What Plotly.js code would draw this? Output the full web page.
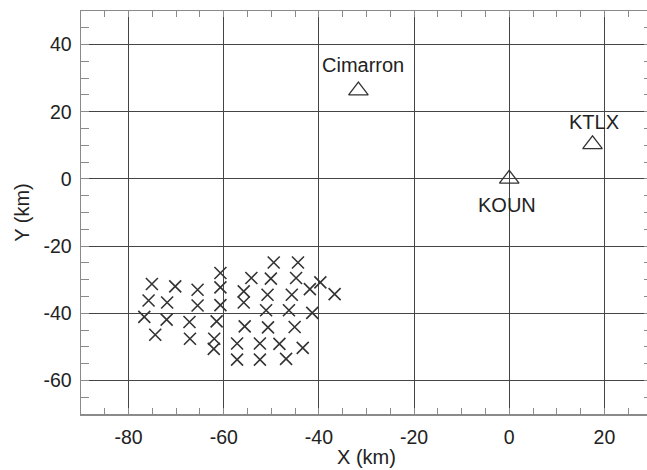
<!DOCTYPE html>
<html>
<head>
<meta charset="utf-8">
<script src="https://cdn.plot.ly/plotly-3.0.1.min.js"></script>
<style>
html,body{margin:0;padding:0;overflow:hidden;background:#fff;}
#chart{width:660px;height:470px;}
</style>
</head>
<body>
<div id="chart"></div>
<script>
// Observation points (km)
const pointX = [-75.1,-70.2,-65.5,-60.7,-60.7,-75.8,-71.9,-65.5,-60.7,-76.7,-72.0,-67.2,-61.5,-74.4,-67.1,-62.0,-62.1,
  -55.8,-55.8,-54.2,-55.6,-57.2,-57.2,-49.5,-50.1,-50.8,-51.1,-50.7,-52.4,-52.4,
  -44.4,-44.8,-45.7,-46.3,-45.1,-48.3,-46.9,-41.9,-39.7,-36.7,-41.4,-43.4];
const pointY = [-31.3,-32.0,-33.0,-28.0,-32.3,-36.2,-36.8,-37.7,-37.6,-41.1,-41.9,-42.6,-42.4,-46.4,-47.6,-47.6,-50.6,
  -33.5,-36.8,-29.5,-43.9,-49.0,-53.8,-24.9,-29.7,-34.5,-39.1,-44.2,-49.0,-53.8,
  -24.9,-29.5,-34.5,-39.1,-44.1,-49.1,-53.6,-32.8,-30.8,-34.3,-39.9,-50.3];

// Radar sites
const siteNames = ["Cimarron", "KTLX", "KOUN"];
const siteX = [-31.7, 17.5, 0];
const siteY = [26.3, 10.3, 0];

const xTicks = [-80, -60, -40, -20, 0, 20];
const yTicks = [-60, -40, -20, 0, 20, 40];

const labelShift = {Cimarron: [5, 26], KTLX: [1, 22], KOUN: [-2, -26]};

const txtColor = '#222';
const fontFam = 'Liberation Sans, Arial, Helvetica, sans-serif';

const traces = [
  {
    x: pointX, y: pointY, mode: 'markers', type: 'scatter',
    marker: {symbol: 'x-thin-open', size: 12, color: '#333', line: {width: 1.6, color: '#333'}},
    hoverinfo: 'skip'
  },
  {
    x: siteX, y: siteY, mode: 'markers', type: 'scatter',
    marker: {symbol: 'triangle-up-open', size: 17, color: '#333', line: {width: 1.3, color: '#333'}},
    hoverinfo: 'skip'
  }
];

const annotations = siteNames.map((n, i) => ({
  x: siteX[i], y: siteY[i], xref: 'x', yref: 'y', text: n, showarrow: false,
  xshift: labelShift[n][0], yshift: labelShift[n][1],
  font: {family: fontFam, size: 20, color: txtColor}
}));
annotations.push({
  text: 'X (km)', xref: 'paper', yref: 'paper', x: 0.5, y: 0, yanchor: 'top',
  yshift: -30, showarrow: false, font: {family: fontFam, size: 20, color: txtColor}
});

const axisCommon = {
  showline: true, linecolor: '#8a8a8a', linewidth: 1.5, mirror: 'ticks',
  ticks: 'inside', ticklen: 0, tickcolor: '#8a8a8a',
  showgrid: true, gridcolor: '#444', gridwidth: 1,
  zeroline: false,
  tickfont: {family: fontFam, size: 19.5, color: txtColor},
};

const layout = {
  width: 660, height: 470,
  margin: {l: 81, r: 8, t: 11, b: 56},
  paper_bgcolor: '#fff', plot_bgcolor: '#fff',
  showlegend: false,
  xaxis: Object.assign({}, axisCommon, {
    range: [-90, 30], tickvals: xTicks, ticktext: xTicks.map(String),
    minor: {dtick: 5, tick0: 0, ticks: 'inside', ticklen: 6, tickcolor: '#8a8a8a', tickwidth: 1, showgrid: false},
    ticklabelstandoff: 5
  }),
  yaxis: Object.assign({}, axisCommon, {
    range: [-70, 50], tickvals: yTicks, ticktext: yTicks.map(String),
    minor: {dtick: 5, tick0: 0, ticks: 'inside', ticklen: 8, tickcolor: '#8a8a8a', tickwidth: 1, showgrid: false},
    ticklabelstandoff: 4,
    title: {text: 'Y (km)', font: {family: fontFam, size: 20, color: txtColor}, standoff: 8}
  }),
  annotations: annotations
};

Plotly.newPlot('chart', traces, layout, {staticPlot: true, displayModeBar: false});
</script>
</body>
</html>
